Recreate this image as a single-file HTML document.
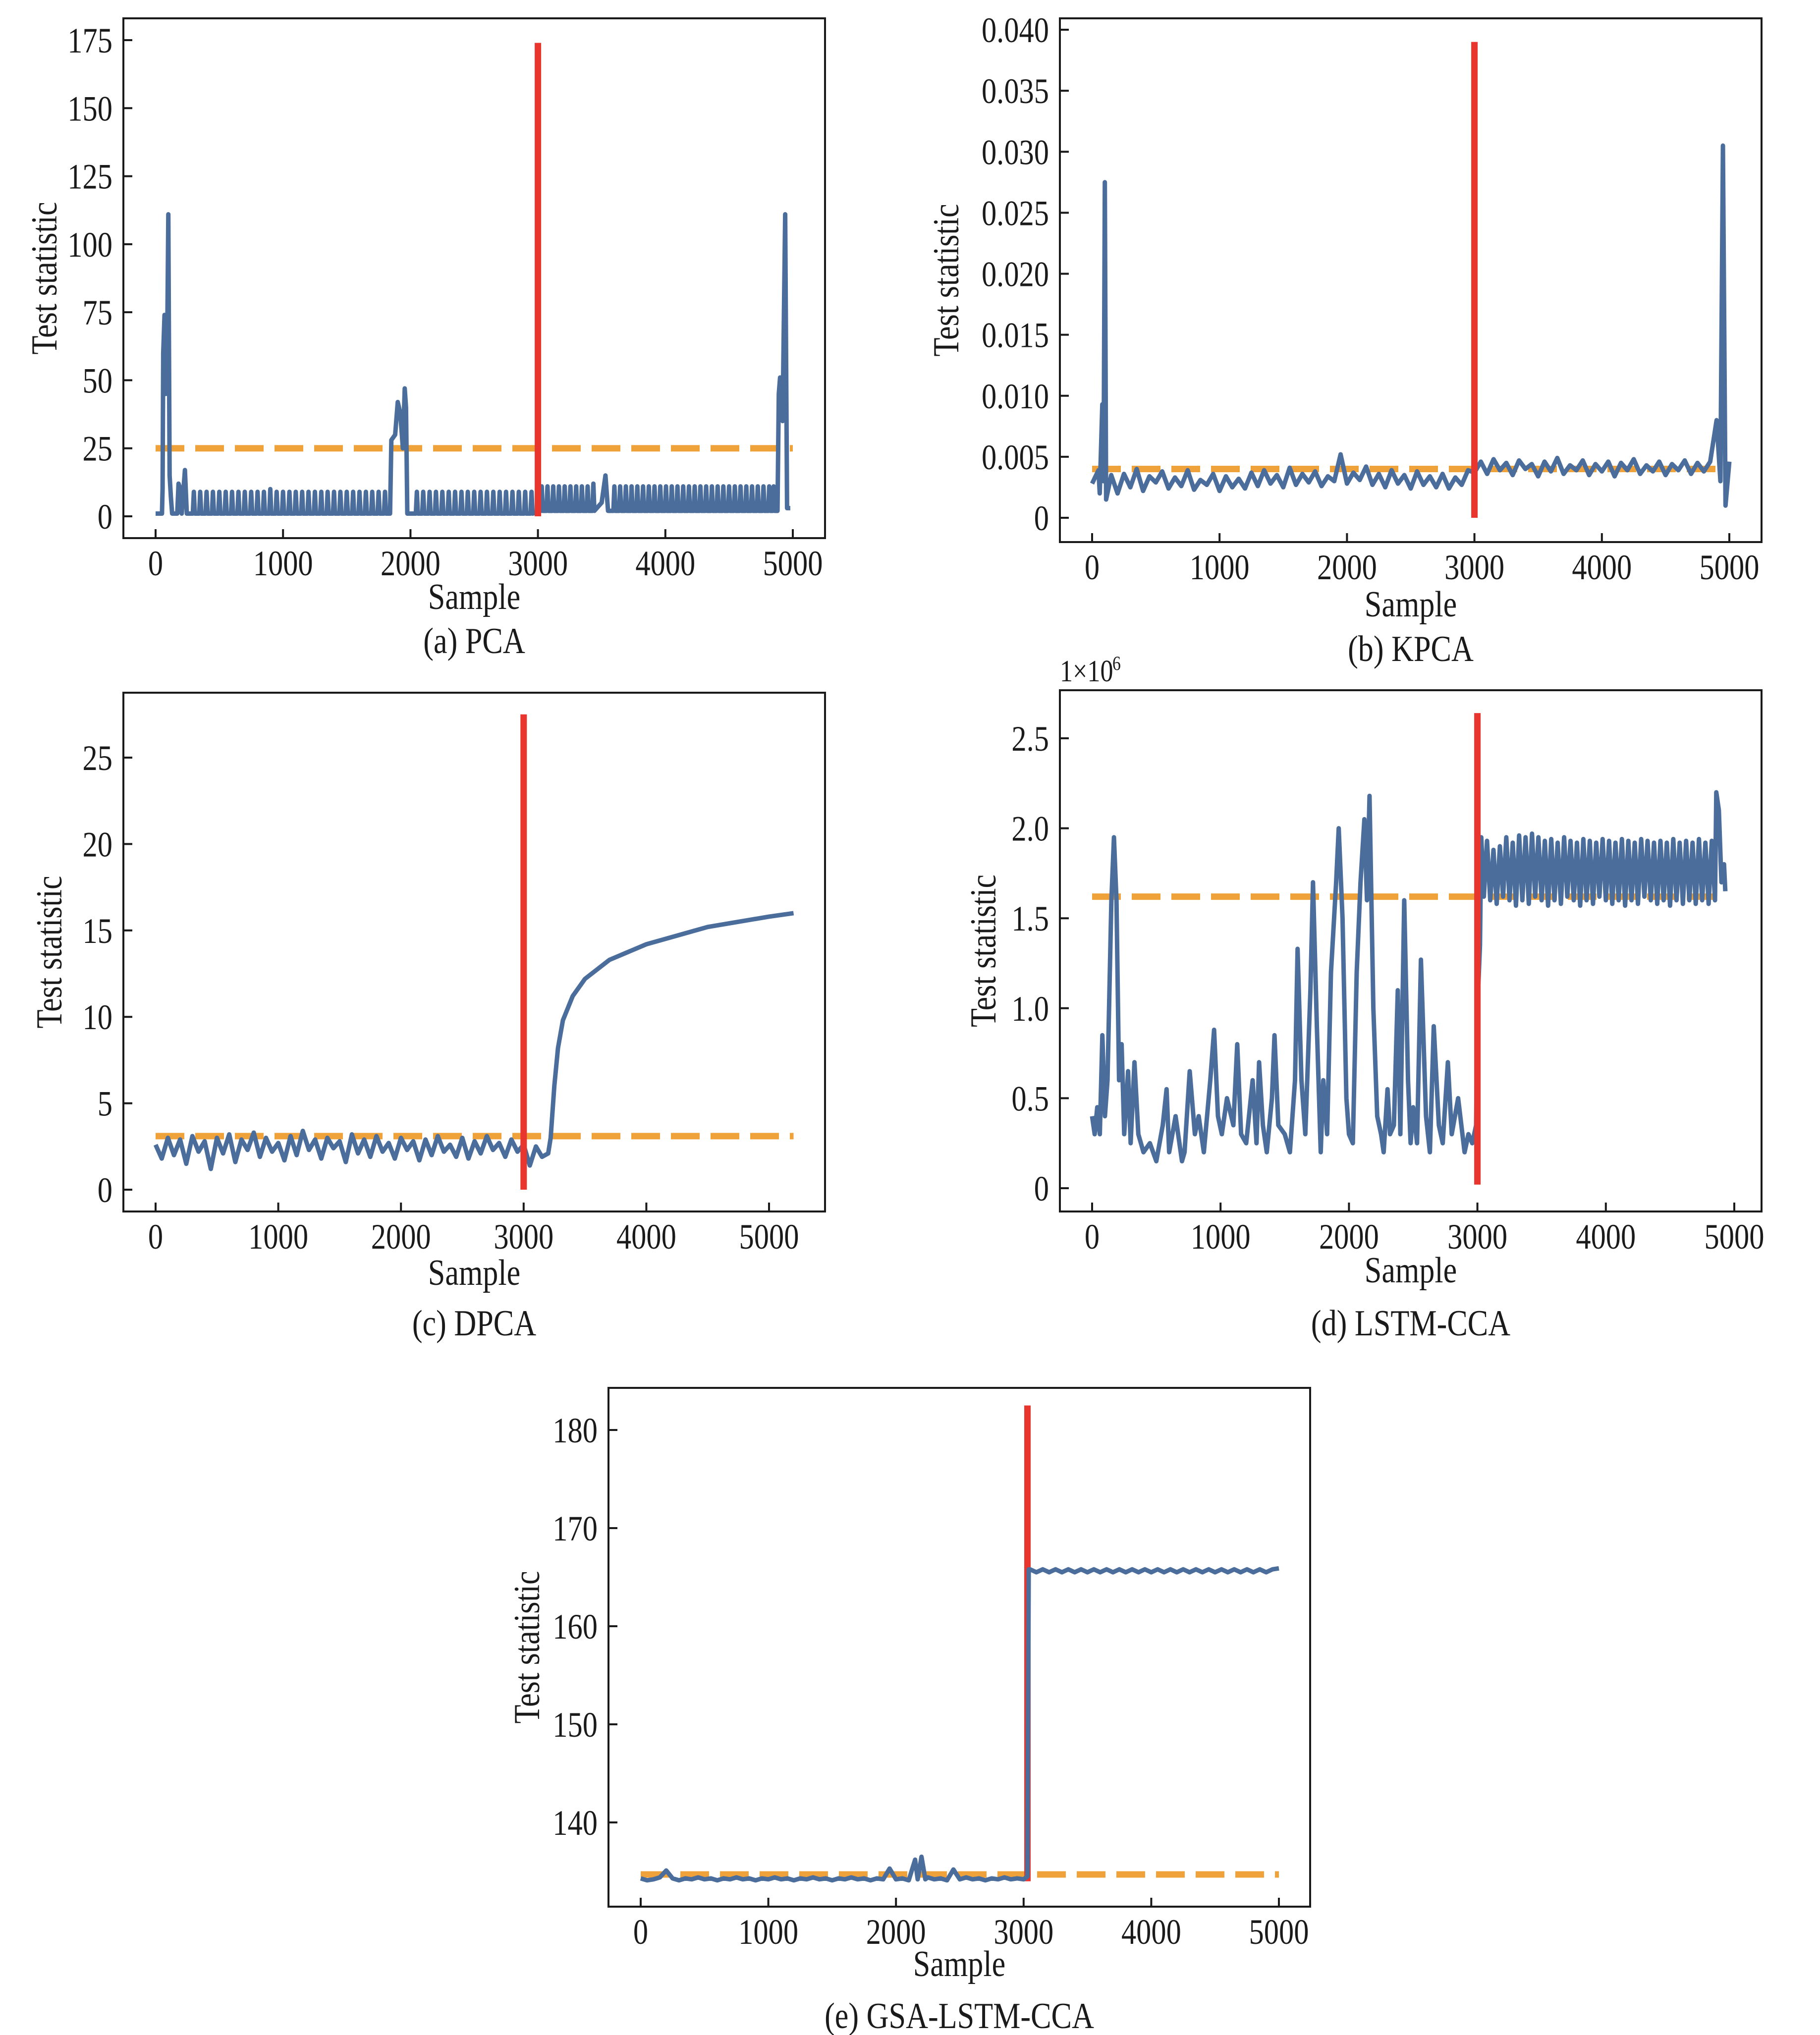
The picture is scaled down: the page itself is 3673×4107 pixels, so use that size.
<!DOCTYPE html>
<html><head><meta charset="utf-8"><style>
html,body{margin:0;padding:0;background:#fff;}
svg{display:block;}
text{font-family:"Liberation Serif","Times New Roman",serif;fill:#1a1a1a;}
</style></head>
<body>
<svg id="fig" xmlns="http://www.w3.org/2000/svg" width="3673" height="4107" viewBox="0 0 3673 4107">
<rect x="0" y="0" width="3673" height="4107" fill="#fff"/>
</svg>
<script>
// ---------- DATA ----------
// (a) PCA
const pcaShapeX = [0,50,55,60,70,80,90,100,110,120,130,170,180,195,205,230,245,1840,1850,1880,1900,1920,1940,1955,1965,1975,3000,3500,3530,3550,4880,4890,4900,4920,4940,4955,4980];
const pcaShapeY = [1,1,10,60,74,45,57,111,15,7,1,1,12,10,1,17,1,1,28,30,42,38,25,47,40,1,1.5,5,15,2,2,45,51,35,111,3,3];
const pcaSpikeX = [300,350,400,450,500,550,600,650,700,750,800,850,900,950,1000,1050,1100,1150,1200,1250,1300,1350,1400,1450,1500,1550,1600,1650,1700,1750,1800,2050,2100,2150,2200,2250,2300,2350,2400,2450,2500,2550,2600,2650,2700,2750,2800,2850,2900,2950,3030,3075,3120,3165,3210,3255,3300,3345,3390,3435,3600,3645,3690,3735,3780,3825,3870,3915,3960,4005,4050,4095,4140,4185,4230,4275,4320,4365,4410,4455,4500,4545,4590,4635,4680,4725,4770,4815,4850];
const pcaSpikeH = [9,9,9,9,9,9,9,9,9,9,9,9,10,9,9,9,9,9,9,9,9,9,9,9,9,9,9,9,9,9,9,9,9,9,9,9,9,9,9,9,9,9,9,9,9,9,9,9,9,9,11,11,11,11,11,11,11,11,11,12,11,11,11,11,11,11,11,11,11,11,11,11,11,11,11,11,11,11,11,11,11,11,11,11,11,11,11,11,11];
const pcaSpikeBase = [1,1,1,1,1,1,1,1,1,1,1,1,1,1,1,1,1,1,1,1,1,1,1,1,1,1,1,1,1,1,1,1,1,1,1,1,1,1,1,1,1,1,1,1,1,1,1,1,1,1,2,2,2,2,2,2,2,2,2,2,2,2,2,2,2,2,2,2,2,2,2,2,2,2,2,2,2,2,2,2,2,2,2,2,2,2,2,2,2];
const pcaThreshold = 25;
const pcaFault = [3000, 0, 174];
const pcaYTicks = [0,25,50,75,100,125,150,175];
const pcaYLabels = ["0","25","50","75","100","125","150","175"];

// (b) KPCA (values x1e-3), sampled every 50 samples
const kpcaNoise = [2.8,3.9,1.8,3.5,2.0,3.6,2.5,4.0,2.2,3.4,2.9,3.8,2.4,3.3,2.6,3.9,2.3,3.1,2.7,3.6,2.2,3.4,2.5,3.2,2.4,3.7,2.6,3.9,2.8,3.5,2.5,4.1,2.7,3.6,2.9,3.8,2.6,3.4,3.0,5.2,2.8,3.7,3.1,4.2,2.7,3.6,2.5,3.9,2.8,3.5,2.4,3.8,2.7,3.4,2.5,3.6,2.4,3.3,2.7,3.9,3.7,
 4.6,3.6,4.8,3.9,4.5,3.5,4.7,4.0,4.4,3.4,4.6,3.8,4.9,3.6,4.3,3.9,4.7,3.5,4.4,3.8,4.6,3.4,4.5,3.9,4.8,3.6,4.3,3.8,4.6,3.5,4.4,3.9,4.7,3.6,4.5,3.8,4.6,2.0,4.0,4.6];
const kpcaSpikeX = [60,80,90,100,110,4900,4930,4950,4970];
const kpcaSpikeY = [2.0,9.3,3.0,27.5,1.5,8.0,3.0,30.5,1.0];
const kpcaThreshold = 4.0;
const kpcaFault = [3000, 0, 39];
const kpcaYTicks = [0,5,10,15,20,25,30,35,40];
const kpcaYLabels = ["0","0.005","0.010","0.015","0.020","0.025","0.030","0.035","0.040"];

// (c) DPCA, noise every 50 samples 0..3200
const dpcaNoise = [2.6,1.8,3.0,2.0,2.9,1.5,3.1,2.2,2.8,1.2,3.0,2.1,3.2,1.6,2.9,2.3,3.3,1.9,3.0,2.2,2.7,1.7,3.1,2.0,3.4,2.3,2.9,1.8,3.0,2.4,2.8,1.6,3.2,2.1,2.9,1.9,3.1,2.2,2.7,1.8,3.0,2.3,2.8,1.7,2.9,2.0,3.1,2.2,2.6,1.9,3.0,1.8,2.8,2.1,3.1,2.3,2.7,1.9,2.9,2.2,2.6,1.4,2.5,1.9,2.1];
const dpcaCurveX = [3220,3250,3280,3320,3400,3500,3700,4000,4500,5000,5200];
const dpcaCurveY = [3,6,8.2,9.8,11.2,12.2,13.3,14.2,15.2,15.8,16.0];
const dpcaThreshold = 3.1;
const dpcaThresholdEnd = 5200;
const dpcaFault = [3000, 0, 27.5];
const dpcaYTicks = [0,5,10,15,20,25];
const dpcaYLabels = ["0","5","10","15","20","25"];

// (d) LSTM-CCA (x1e6)
const lstmX = [0,20,40,60,80,100,120,150,170,190,210,230,250,280,300,330,360,400,450,500,550,580,600,650,700,720,760,800,830,870,920,950,980,1010,1050,1100,1130,1160,1200,1250,1280,1300,1330,1360,1400,1420,1450,1500,1540,1580,1600,1630,1660,1700,1720,1750,1780,1800,1830,1860,1900,1920,1950,1980,2000,2030,2060,2090,2120,2140,2160,2190,2220,2250,2270,2300,2320,2350,2380,2400,2430,2460,2480,2500,2530,2560,2600,2630,2660,2700,2730,2770,2800,2850,2900,2930,2960,2990,3000,3020,3030];
const lstmY = [0.4,0.3,0.45,0.3,0.85,0.4,0.6,1.6,1.95,1.6,0.6,0.8,0.3,0.65,0.25,0.7,0.3,0.2,0.25,0.15,0.35,0.55,0.2,0.4,0.15,0.2,0.65,0.3,0.4,0.2,0.6,0.88,0.4,0.3,0.5,0.35,0.8,0.3,0.25,0.6,0.25,0.7,0.35,0.2,0.5,0.85,0.35,0.3,0.2,0.6,1.33,0.6,0.3,1.1,1.7,0.9,0.2,0.6,0.3,1.2,1.7,2.0,1.5,0.5,0.3,0.25,1.2,1.7,2.05,1.6,2.18,1.0,0.4,0.3,0.2,0.55,0.3,0.35,1.1,0.3,1.6,0.6,0.25,0.45,0.25,1.27,0.4,0.2,0.9,0.35,0.25,0.7,0.3,0.5,0.2,0.3,0.25,0.35,1.0,1.35,1.95];
const lstmOsc = [1.62,1.93,1.6,1.88,1.58,1.9,1.62,1.95,1.6,1.92,1.57,1.96,1.6,1.95,1.58,1.97,1.62,1.95,1.6,1.93,1.57,1.94,1.6,1.92,1.58,1.95,1.62,1.93,1.6,1.92,1.57,1.94,1.6,1.93,1.58,1.92,1.62,1.94,1.6,1.93,1.58,1.92,1.6,1.94,1.57,1.93,1.6,1.92,1.58,1.94,1.62,1.93,1.6,1.92,1.58,1.93,1.6,1.92,1.57,1.94,1.6,1.92,1.58,1.93,1.6,1.92,1.58,1.94,1.6,1.92,1.58,1.93,1.6];
const lstmOscStart = 3050;
const lstmOscStep = 25;
const lstmTailX = [4860,4880,4900,4920,4930];
const lstmTailY = [2.2,2.1,1.7,1.8,1.65];
const lstmThreshold = 1.62;
const lstmThresholdEnd = 4930;
const lstmFault = [3000, 0.02, 2.64];
const lstmYTicks = [0,0.5,1.0,1.5,2.0,2.5];
const lstmYLabels = ["0","0.5","1.0","1.5","2.0","2.5"];

// (e) GSA-LSTM-CCA
const gsaLow = [134.3,134.1,134.2,134.4,134.2,134.3,134.1,134.3,134.2,134.4,134.2,134.3,134.1,134.3,134.2,134.4,134.2,134.3,134.1,134.3,134.2,134.4,134.2,134.3,134.1,134.3,134.2,134.4,134.2,134.3,134.1,134.3,134.2,134.4,134.2,134.3,134.1,134.3,134.2,134.4,134.2,134.3,134.1,134.3,134.2,134.4,134.2,134.3,134.1,134.3,134.2,134.4,134.2,134.3,134.1,134.3,134.2,134.4,134.2,134.3,134.2];
const gsaSpikeX = [200,1950,2150,2170,2200,2230,2450,3030,3040];
const gsaSpikeY = [135.1,135.3,136.2,134.2,136.5,134.2,135.2,134.5,165.8];
const gsaHigh = [165.8,165.5,165.8,165.5,165.8,165.5,165.8,165.5,165.8,165.5,165.8,165.5,165.8,165.5,165.8,165.5,165.8,165.5,165.8,165.5,165.8,165.5,165.8,165.5,165.8,165.5,165.8,165.5,165.8,165.5,165.8,165.5,165.8,165.5,165.8,165.5,165.8,165.5,165.8,165.9];
const gsaThreshold = 134.7;
const gsaFault = [3030, 134, 182.5];
const gsaYTicks = [140,150,160,170,180];
const gsaYLabels = ["140","150","160","170","180"];

const xTicks = [0,1000,2000,3000,4000,5000];
const xTickLabels = ["0","1000","2000","3000","4000","5000"];

// ---------- DRAWING ----------
const NS = "http://www.w3.org/2000/svg";
const svg = document.getElementById("fig");
const BLUE = "#4b6d9b", ORANGE = "#f0a23a", RED = "#e8352e";

function mk(parent, tag, attrs) {
  const el = document.createElementNS(NS, tag);
  for (const k in attrs) el.setAttribute(k, attrs[k]);
  parent.appendChild(el);
  return el;
}
function txt(parent, x, y, s, size, anchor, rot) {
  const g = mk(parent, "g", {transform: "translate(" + x + "," + y + ")" + (rot ? " rotate(" + rot + ")" : "") + " scale(0.84,1)"});
  const t = mk(g, "text", {x: 0, y: 0, "font-size": size, "text-anchor": anchor});
  t.textContent = s;
  return t;
}

function makeAxes(P) {
  const g = mk(svg, "g", {});
  
  
  const sx = v => P.x0 + v / 5000 * (P.x1 - P.x0);
  const sy = v => P.py0 - (v - P.v0) / (P.v1 - P.v0) * (P.py0 - P.py1);
  return {g, sx, sy};
}

function finishAxes(P, A, yTicks, yLabels) {
  const g = A.g;
  const frame = mk(g, "rect", {x: P.L, y: P.T, width: P.R - P.L, height: P.B - P.T, fill: "none", stroke: "#1a1a1a", "stroke-width": 4});
  
  
  xTicks.forEach((v, i) => {
    const x = A.sx(v);
    const tk = mk(g, "line", {x1: x, x2: x, y1: P.B, y2: P.B - 18, stroke: "#1a1a1a", "stroke-width": 4});
    
    
    const lb = txt(g, x, P.B + 75, xTickLabels[i], 72, "middle");
    
    
  });
  yTicks.forEach((v, i) => {
    const y = A.sy(v);
    const tk = mk(g, "line", {x1: P.L, x2: P.L + 18, y1: y, y2: y, stroke: "#1a1a1a", "stroke-width": 4});
    
    
    const lb = txt(g, P.L - 22, y + 25, yLabels[i], 72, "end");
    
    
  });
  const cx = (P.L + P.R) / 2;
  const xl = txt(g, cx, P.B + P.sampleDy, "Sample", 74, "middle");
  
  
  const yl = txt(g, P.L + P.ylabDx, (P.T + P.B) / 2, "Test statistic", 74, "middle", -90);
  
  
  const cap = txt(g, cx, P.B + P.capDy, P.caption, 74, "middle");
  
  
}

function drawSeries(A, xs, ys) {
  const idx = xs.map((x, i) => i).sort((a, b) => xs[a] - xs[b]);
  const d = idx.map((i, k) => (k ? "L" : "M") + A.sx(xs[i]).toFixed(1) + "," + A.sy(ys[i]).toFixed(1)).join("");
  const p = mk(A.g, "path", {d: d, fill: "none", stroke: BLUE, "stroke-width": 9, "stroke-linejoin": "round"});
  
  
}
function drawThreshold(A, v, xEnd) {
  const y = A.sy(v);
  const l = mk(A.g, "line", {x1: A.sx(0), x2: A.sx(xEnd), y1: y, y2: y, stroke: ORANGE, "stroke-width": 13, "stroke-dasharray": "58 22"});
  
  
}
function drawFault(A, f) {
  const x = A.sx(f[0]);
  const l = mk(A.g, "line", {x1: x, x2: x, y1: A.sy(f[1]), y2: A.sy(f[2]), stroke: RED, "stroke-width": 13});
  
  
}

// Panel (a)
(function () {
  const P = {name: "pca", L: 249, T: 37, R: 1665, B: 1086, x0: 314, x1: 1600, v0: 0, v1: 175, py0: 1042, py1: 81, sampleDy: 143, capDy: 232, ylabDx: -135, caption: "(a) PCA"};
  const A = makeAxes(P);
  const xs = pcaShapeX.slice(), ys = pcaShapeY.slice();
  pcaSpikeX.forEach((x, i) => { xs.push(x - 8, x, x + 8); ys.push(pcaSpikeBase[i], pcaSpikeH[i], pcaSpikeBase[i]); });
  drawThreshold(A, pcaThreshold, 5000);
  drawSeries(A, xs, ys);
  drawFault(A, pcaFault);
  finishAxes(P, A, pcaYTicks, pcaYLabels);
})();

// Panel (b)
(function () {
  const P = {name: "kpca", L: 2139, T: 37, R: 3555, B: 1094, x0: 2204, x1: 3490, v0: 0, v1: 40, py0: 1045, py1: 60, sampleDy: 150, capDy: 240, ylabDx: -205, caption: "(b) KPCA"};
  const A = makeAxes(P);
  const xs = [], ys = [];
  kpcaNoise.forEach((v, i) => { const x = i * 50; if (x !== 100 && x !== 4900 && x !== 4950) { xs.push(x); ys.push(v); } });
  kpcaSpikeX.forEach((x, i) => { xs.push(x); ys.push(kpcaSpikeY[i]); });
  drawThreshold(A, kpcaThreshold, 5000);
  drawSeries(A, xs, ys);
  drawFault(A, kpcaFault);
  finishAxes(P, A, kpcaYTicks, kpcaYLabels);
})();

// Panel (c)
(function () {
  const P = {name: "dpca", L: 249, T: 1398, R: 1665, B: 2445, x0: 314, x1: 1552, v0: 0, v1: 25, py0: 2401, py1: 1529, sampleDy: 148, capDy: 250, ylabDx: -125, caption: "(c) DPCA"};
  const A = makeAxes(P);
  const xs = [], ys = [];
  dpcaNoise.forEach((v, i) => { xs.push(i * 50); ys.push(v); });
  dpcaCurveX.forEach((x, i) => { xs.push(x); ys.push(dpcaCurveY[i]); });
  drawThreshold(A, dpcaThreshold, dpcaThresholdEnd);
  drawSeries(A, xs, ys);
  drawFault(A, dpcaFault);
  finishAxes(P, A, dpcaYTicks, dpcaYLabels);
})();

// Panel (d)
(function () {
  const P = {name: "lstm-cca", L: 2139, T: 1393, R: 3555, B: 2445, x0: 2204, x1: 3500, v0: 0, v1: 2.5, py0: 2398, py1: 1490, sampleDy: 143, capDy: 250, ylabDx: -130, caption: "(d) LSTM-CCA"};
  const A = makeAxes(P);
  const xs = lstmX.slice(), ys = lstmY.slice();
  lstmOsc.forEach((v, i) => { xs.push(lstmOscStart + i * lstmOscStep); ys.push(v); });
  lstmTailX.forEach((x, i) => { xs.push(x); ys.push(lstmTailY[i]); });
  drawThreshold(A, lstmThreshold, lstmThresholdEnd);
  drawSeries(A, xs, ys);
  drawFault(A, lstmFault);
  finishAxes(P, A, lstmYTicks, lstmYLabels);
  const m = txt(A.g, 2139, 1375, "1×10", 62, "start");
  
  
  const e = txt(A.g, 2245, 1352, "6", 40, "start");
  
  
})();

// Panel (e)
(function () {
  const P = {name: "gsa-lstm-cca", L: 1228, T: 2801, R: 2644, B: 3848, x0: 1293, x1: 2581, v0: 140, v1: 180, py0: 3678, py1: 2886, sampleDy: 140, capDy: 245, ylabDx: -140, caption: "(e) GSA-LSTM-CCA"};
  const A = makeAxes(P);
  const xs = [], ys = [];
  gsaLow.forEach((v, i) => { const x = i * 50; if (x !== 200 && x !== 1950 && x !== 2150 && x !== 2200 && x !== 2450) { xs.push(x); ys.push(v); } });
  gsaSpikeX.forEach((x, i) => { xs.push(x); ys.push(gsaSpikeY[i]); });
  gsaHigh.forEach((v, i) => { xs.push(3050 + i * 50); ys.push(v); });
  drawThreshold(A, gsaThreshold, 5000);
  drawFault(A, gsaFault);
  drawSeries(A, xs, ys);
  finishAxes(P, A, gsaYTicks, gsaYLabels);
})();
</script>
</body></html>
